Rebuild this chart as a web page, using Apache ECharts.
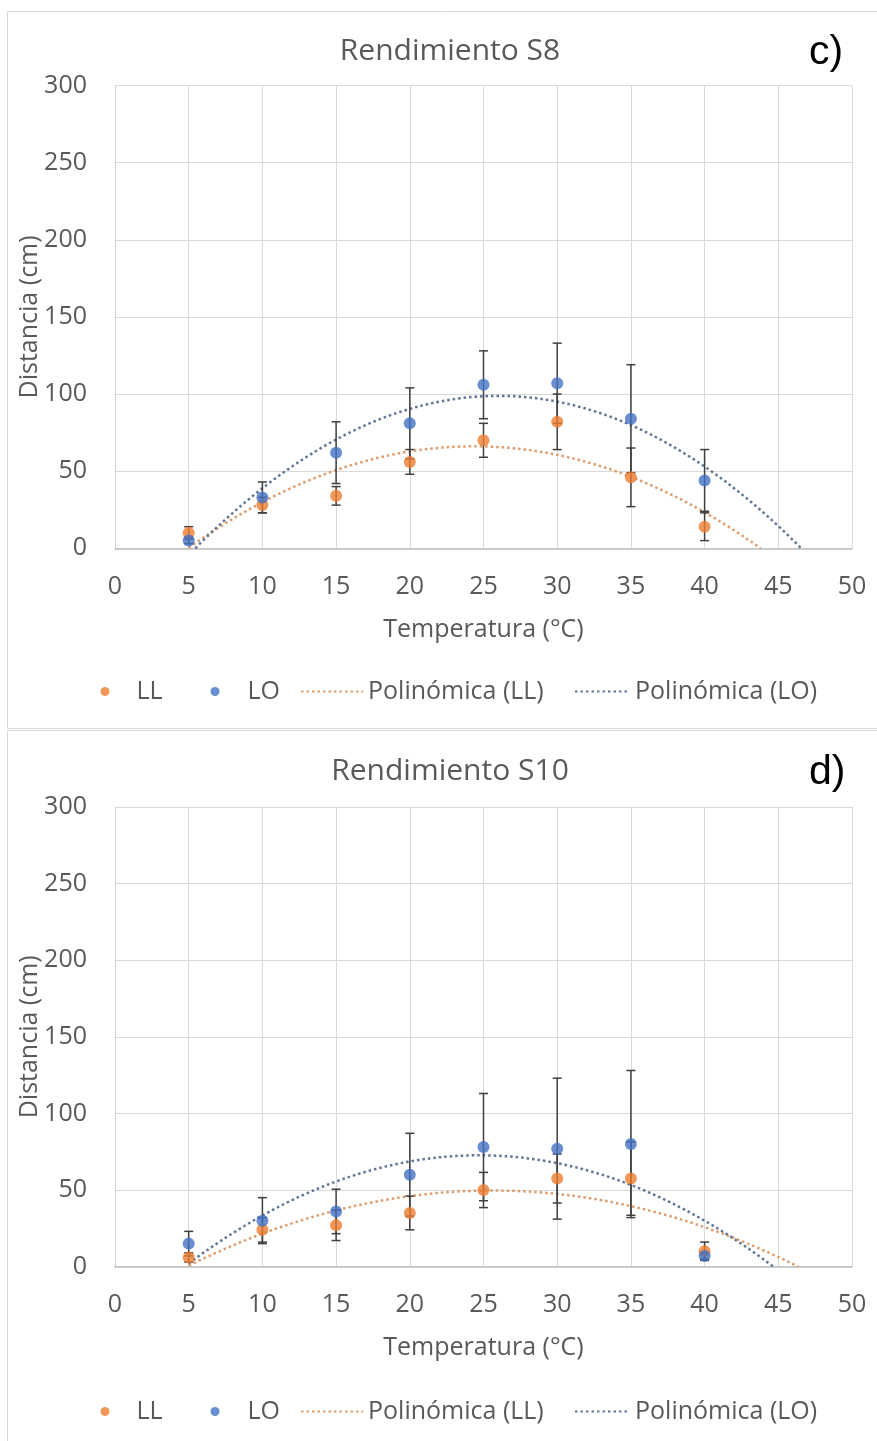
<!DOCTYPE html>
<html>
<head>
<meta charset="utf-8">
<script src="https://cdn.jsdelivr.net/npm/echarts@6/dist/echarts.min.js"></script>
<style>
  html, body { margin: 0; padding: 0; background: #ffffff; }
  #chart { width: 877px; height: 1441px; }
</style>
</head>
<body>
<div id="chart"></div>
<script>
// Temperatures (°C) at which distances were measured
const temps = [5, 10, 15, 20, 25, 30, 35, 40];

// Rendimiento S8: mean distance (cm) and error (±cm)
const s8LL = [10, 28, 34, 56, 70, 82, 46, 14];
const s8LLErr = [4, 5, 6, 8, 11, 18, 19, 9];
const s8LO = [5, 33, 62, 81, 106, 107, 84, 44];
const s8LOErr = [2, 10, 20, 23, 22, 26, 35, 20];

// Rendimiento S10: mean distance (cm) and error (±cm)
const s10LL = [6, 24, 27, 35, 50, 57.5, 57.5, 10];
const s10LLErr = [3, 8, 10, 11, 11.5, 16, 24, 6];
const s10LO = [15, 30, 36, 60, 78, 77, 80, 7];
const s10LOErr = [8, 15, 14.5, 27, 35, 46, 48, 2];

const panelTitles = ['Rendimiento S8', 'Rendimiento S10'];
const panelTags = ['c)', 'd)'];
const xAxisName = 'Temperatura (°C)';
const yAxisName = 'Distancia (cm)';

const FONT = '"Open Sans", sans-serif';
const TEXT = '#595959';
const ORANGE = '#ED7D31';
const BLUE = '#4472C4';
const ORANGE_TREND = '#dd9c6c';
const BLUE_TREND = '#5f7597';
const PANEL = 720;

// Least-squares fit of y = a + b x + c x^2
function quadFit(xs, ys) {
  let n = xs.length, s1 = 0, s2 = 0, s3 = 0, s4 = 0, t0 = 0, t1 = 0, t2 = 0;
  for (let i = 0; i < n; i++) {
    const x = xs[i], y = ys[i];
    s1 += x; s2 += x * x; s3 += x * x * x; s4 += x * x * x * x;
    t0 += y; t1 += x * y; t2 += x * x * y;
  }
  const M = [[n, s1, s2], [s1, s2, s3], [s2, s3, s4]];
  const R = [t0, t1, t2];
  const det = m => m[0][0] * (m[1][1] * m[2][2] - m[1][2] * m[2][1])
                 - m[0][1] * (m[1][0] * m[2][2] - m[1][2] * m[2][0])
                 + m[0][2] * (m[1][0] * m[2][1] - m[1][1] * m[2][0]);
  const D = det(M);
  return [0, 1, 2].map(k => det(M.map((row, r) => row.map((v, c) => (c === k ? R[r] : v)))) / D);
}

// Trend curve from the fit, kept inside the visible part of the plot (y >= 0)
function trendPoints(xs, ys) {
  const [a, b, c] = quadFit(xs, ys);
  const f = x => a + b * x + c * x * x;
  let x0 = xs[0], x1 = 50;
  const disc = b * b - 4 * c * a;
  if (disc >= 0) {
    const r1 = (-b + Math.sqrt(disc)) / (2 * c);
    const r2 = (-b - Math.sqrt(disc)) / (2 * c);
    x0 = Math.max(x0, Math.min(r1, r2));
    x1 = Math.min(x1, Math.max(r1, r2));
  }
  const pts = [];
  const steps = 160;
  for (let i = 0; i <= steps; i++) {
    const x = x0 + (x1 - x0) * i / steps;
    pts.push([x, Math.max(0, f(x))]);
  }
  return pts;
}

function errorBars(name, idx, vals, errs) {
  return {
    name: name,
    type: 'custom',
    xAxisIndex: idx,
    yAxisIndex: idx,
    z: 3,
    silent: true,
    data: temps.map((t, i) => [t, vals[i] - errs[i], vals[i] + errs[i]]),
    encode: { x: 0, y: [1, 2] },
    renderItem: function (params, api) {
      const lo = api.coord([api.value(0), api.value(1)]);
      const hi = api.coord([api.value(0), api.value(2)]);
      const hw = 4.5;
      const style = { stroke: '#3f3f3f', lineWidth: 1.5, fill: null };
      return {
        type: 'group',
        children: [
          { type: 'line', shape: { x1: lo[0], y1: lo[1], x2: hi[0], y2: hi[1] }, style: style },
          { type: 'line', shape: { x1: lo[0] - hw, y1: lo[1], x2: lo[0] + hw, y2: lo[1] }, style: style },
          { type: 'line', shape: { x1: hi[0] - hw, y1: hi[1], x2: hi[0] + hw, y2: hi[1] }, style: style }
        ]
      };
    }
  };
}

const panels = [
  { ll: s8LL, llErr: s8LLErr, lo: s8LO, loErr: s8LOErr, gridTop: 85.5, gridH: 462.8 },
  { ll: s10LL, llErr: s10LLErr, lo: s10LO, loErr: s10LOErr, gridTop: 807, gridH: 459.6 }
];

// One legend entry per item so each sits at its own spot along the row
const legendItems = [
  { name: 'LL', left: 100.5, width: 9, pad: 22, marker: true },
  { name: 'LO', left: 210.5, width: 9, pad: 23, marker: true },
  { name: 'Polinómica (LL)', left: 300, width: 62, pad: 0, marker: false },
  { name: 'Polinómica (LO)', left: 574, width: 55, pad: 0, marker: false }
];

const grid = [], xAxis = [], yAxis = [], series = [], title = [], legend = [], graphic = [];

panels.forEach((p, k) => {
  const off = k * PANEL;
  grid.push({ left: 115, top: p.gridTop, width: 737, height: p.gridH, containLabel: false });

  xAxis.push({
    type: 'value', gridIndex: k, min: 0, max: 50, interval: 5,
    name: xAxisName, nameLocation: 'middle', nameGap: 69, nameMoveOverlap: false,
    nameTextStyle: { fontFamily: FONT, fontSize: 25, color: TEXT },
    axisLine: { show: true, onZero: false, lineStyle: { color: '#bfbfbf', width: 1.5 } },
    axisTick: { show: false },
    axisLabel: { margin: 26, fontFamily: FONT, fontSize: 25, color: TEXT },
    splitLine: { show: true, lineStyle: { color: '#d9d9d9', width: 1 } }
  });

  yAxis.push({
    type: 'value', gridIndex: k, min: 0, max: 300, interval: 50,
    name: yAxisName, nameLocation: 'middle', nameGap: 73, nameMoveOverlap: false,
    nameTextStyle: { fontFamily: FONT, fontSize: 25, color: TEXT },
    axisLine: { show: true, lineStyle: { color: '#d0d0d0', width: 1 } },
    axisTick: { show: false },
    axisLabel: { margin: 28, fontFamily: FONT, fontSize: 25, color: TEXT },
    splitLine: { show: true, lineStyle: { color: '#d9d9d9', width: 1 } }
  });

  series.push(
    {
      name: 'Polinómica (LL)', type: 'line', xAxisIndex: k, yAxisIndex: k, z: 2,
      data: trendPoints(temps, p.ll), symbol: 'none', showSymbol: false, silent: true,
      lineStyle: { color: ORANGE_TREND, width: 2.5, type: [2.5, 3] },
      itemStyle: { color: ORANGE_TREND }
    },
    {
      name: 'Polinómica (LO)', type: 'line', xAxisIndex: k, yAxisIndex: k, z: 2,
      data: trendPoints(temps, p.lo), symbol: 'none', showSymbol: false, silent: true,
      lineStyle: { color: BLUE_TREND, width: 2.5, type: [2.5, 3] },
      itemStyle: { color: BLUE_TREND }
    },
    errorBars('LL error', k, p.ll, p.llErr),
    errorBars('LO error', k, p.lo, p.loErr),
    {
      name: 'LL', type: 'scatter', xAxisIndex: k, yAxisIndex: k, z: 4,
      data: temps.map((t, i) => [t, p.ll[i]]), symbol: 'circle', symbolSize: 12,
      itemStyle: { color: ORANGE }
    },
    {
      name: 'LO', type: 'scatter', xAxisIndex: k, yAxisIndex: k, z: 4,
      data: temps.map((t, i) => [t, p.lo[i]]), symbol: 'circle', symbolSize: 12,
      itemStyle: { color: BLUE }
    }
  );

  title.push({
    text: panelTitles[k], left: 445, top: 31 + off, textAlign: 'center',
    textStyle: { fontFamily: FONT, fontSize: 30, fontWeight: 'normal', color: TEXT }
  });

  legendItems.forEach(it => {
    const entry = { name: it.name };
    if (it.marker) {
      entry.icon = 'circle';
    } else {
      // dotted sample only, no marker in the middle
      entry.itemStyle = { color: 'rgba(0,0,0,0)', borderColor: 'rgba(0,0,0,0)', borderWidth: 0, opacity: 0 };
    }
    legend.push({
      left: it.left, top: 679 + off, padding: 0,
      itemWidth: it.width, itemHeight: 9, itemGap: 0,
      selectedMode: false,
      textStyle: { fontFamily: FONT, fontSize: 25, color: TEXT, padding: [0, 0, 0, it.pad] },
      data: [entry]
    });
  });

  graphic.push(
    {
      type: 'rect', z: -10, silent: true,
      shape: { x: 7.5, y: 11.5 + off + (k ? -1 : 0), width: 900, height: 717 + (k ? 1 : 0) },
      style: { fill: null, stroke: '#d9d9d9', lineWidth: 1 }
    },
    {
      type: 'text', left: 809, top: 32 + off, silent: true,
      style: { text: panelTags[k], font: '41px "Liberation Sans", Arial, sans-serif', fill: '#000000' }
    }
  );
});

const chart = echarts.init(document.getElementById('chart'), null, { renderer: 'canvas' });
chart.setOption({
  backgroundColor: '#ffffff',
  animation: false,
  title: title,
  legend: legend,
  grid: grid,
  xAxis: xAxis,
  yAxis: yAxis,
  series: series,
  graphic: graphic
});
</script>
</body>
</html>
